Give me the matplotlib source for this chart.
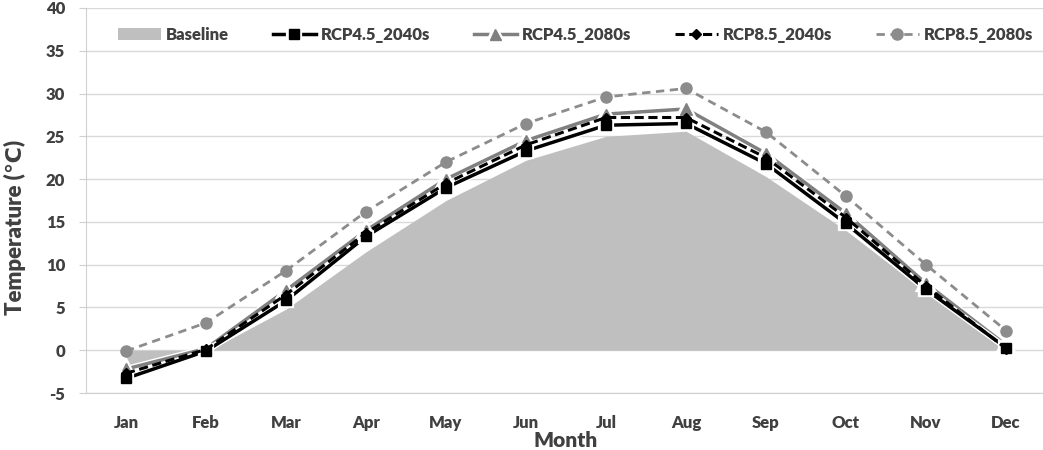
import matplotlib
matplotlib.use("Agg")
import matplotlib.pyplot as plt
import matplotlib.patheffects as pe

plt.rcParams["axes.unicode_minus"] = False

months = ["Jan", "Feb", "Mar", "Apr", "May", "Jun", "Jul", "Aug", "Sep", "Oct", "Nov", "Dec"]
baseline = [-2.0, -0.2, 4.8, 11.5, 17.5, 22.2, 25.0, 25.6, 20.3, 14.0, 6.8, 0.0]
rcp45_2040s = [-3.3, -0.1, 5.8, 13.3, 19.0, 23.3, 26.3, 26.5, 21.8, 14.8, 7.1, 0.3]
rcp45_2080s = [-2.2, 0.2, 7.0, 14.0, 20.0, 24.5, 27.6, 28.2, 23.0, 16.0, 7.8, 0.6]
rcp85_2040s = [-2.7, 0.1, 6.5, 13.7, 19.5, 24.0, 27.2, 27.2, 22.5, 15.5, 7.5, 0.2]
rcp85_2080s = [-0.1, 3.2, 9.3, 16.2, 22.0, 26.5, 29.6, 30.6, 25.5, 18.0, 10.0, 2.3]

fam = ["Lato", "DejaVu Sans"]
txt = "#404040"

fig = plt.figure(figsize=(10.43, 4.5), dpi=100)
ax = fig.add_axes([86 / 1043, 57 / 450, 960 / 1043, 385 / 450])

x = list(range(len(months)))
glow = [pe.Stroke(linewidth=4.5, foreground="white"), pe.Normal()]

ax.fill_between(x, baseline, 0, color="#bfbfbf", lw=0, label="Baseline", zorder=2)
ax.plot(x, rcp45_2040s, color="black", lw=2.5, marker="s", ms=7, label="RCP4.5_2040s",
        path_effects=glow, zorder=4)
ax.plot(x, rcp45_2080s, color="#808080", lw=2.5, marker="^", ms=8, label="RCP4.5_2080s",
        path_effects=glow, zorder=3)
ax.plot(x, rcp85_2040s, color="black", lw=2.2, ls=(0, (3, 1.5)), marker="D", ms=5,
        label="RCP8.5_2040s", zorder=5)
ax.plot(x, rcp85_2080s, color="#8c8c8c", lw=2, ls=(0, (3, 2)), marker="o", ms=8,
        label="RCP8.5_2080s", zorder=3)

ax.set_xlim(-0.5, 11.5)
ax.set_ylim(-5, 40)
ax.set_yticks(range(-5, 41, 5))
ax.set_xticks(x)
ax.set_xticklabels(months)
ax.yaxis.grid(True, color="#d9d9d9", lw=1)
ax.set_axisbelow(True)
for s in ["top", "right"]:
    ax.spines[s].set_visible(False)
ax.spines["left"].set_color("#d0d0d0")
ax.spines["bottom"].set_color("#d0d0d0")
ax.tick_params(axis="y", length=5, color="#d0d0d0", pad=10)
ax.tick_params(axis="x", length=0, pad=16)
for lab in ax.get_xticklabels() + ax.get_yticklabels():
    lab.set_family(fam)
    lab.set_fontweight("heavy")
    lab.set_fontsize(12)
    lab.set_color(txt)

ax.set_xlabel("Month", family=fam, fontweight="heavy", fontsize=15, color=txt, labelpad=0)
ax.set_ylabel("Temperature (℃)", family=fam, fontweight="heavy", fontsize=16, color=txt)
ax.yaxis.set_label_coords(-0.062, 0.43)

leg = ax.legend(loc="center", bbox_to_anchor=(0.51, 0.93), ncol=5, frameon=False,
                handlelength=2.6, columnspacing=2.6, handletextpad=0.3,
                prop={"family": fam, "weight": "heavy", "size": 12})
for t in leg.get_texts():
    t.set_color(txt)

fig.savefig("out.png", dpi=100)
